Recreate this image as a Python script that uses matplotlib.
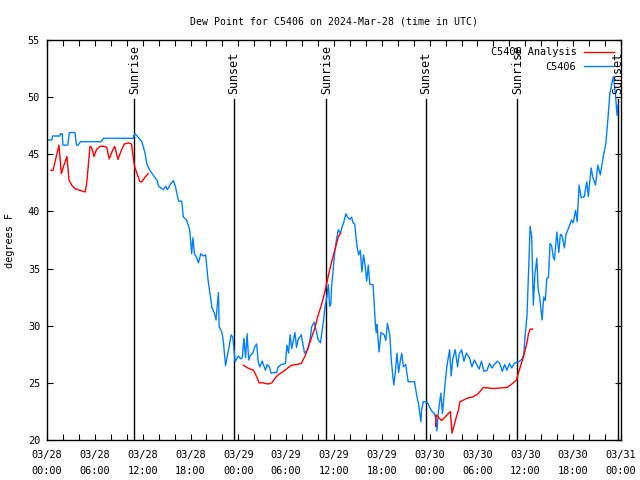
import numpy as np
import matplotlib
matplotlib.use('Agg')
import matplotlib.pyplot as plt
from matplotlib.ticker import MultipleLocator

# hours since 2024-03-28 00:00 UTC
obs_hr = [0.0, 0.6, 0.7, 1.6, 1.7, 1.9, 2.0, 2.6, 2.8, 3.5, 3.7, 3.9, 4.2, 6.8, 7.1, 10.8,
          11.0, 11.3, 11.9, 12.3, 12.5, 12.9, 13.3, 13.6, 13.8, 14.0, 14.6, 14.9, 15.1, 15.5,
          15.85, 16.1, 16.5, 16.9, 17.1, 17.5, 17.9, 18.15, 18.3, 18.5, 18.8, 19.0, 19.3, 19.6,
          19.9, 20.2, 20.5, 20.7, 21.0, 21.2, 21.5, 21.6, 21.9, 22.1, 22.3, 22.4, 22.6, 22.8,
          23.1, 23.3, 23.6, 24.0, 24.3, 24.5, 24.7, 24.9, 25.1, 25.3, 25.5, 25.8, 26.1, 26.3,
          26.5, 26.7, 27.0, 27.4, 27.6, 27.9, 28.1, 28.4, 28.8, 29.0, 29.4, 29.9, 30.1, 30.3,
          30.5, 30.7, 31.1, 31.3, 31.5, 31.9, 32.1, 32.3, 32.7, 33.0, 33.2, 33.5, 33.8, 34.0,
          34.3, 34.5, 34.7, 34.9, 35.1, 35.3, 35.45, 35.6, 35.7, 35.9, 36.1, 36.3, 36.55, 36.8,
          37.0, 37.2, 37.5, 37.7, 38.0, 38.2, 38.4, 38.6, 38.8, 38.9, 39.1, 39.3, 39.5, 39.7,
          39.9, 40.1, 40.3, 40.5, 40.9, 41.2, 41.3, 41.4, 41.65, 41.9, 42.3, 42.5, 42.7, 43.0,
          43.2, 43.5, 43.7, 43.9, 44.1, 44.3, 44.5, 44.7, 45.0, 45.3, 46.1, 46.4, 46.6, 46.9,
          47.0, 47.2, 47.65, 48.05, 48.3, 48.6, 48.8, 48.9, 49.1, 49.4, 49.6, 49.9, 50.15, 50.5,
          50.7, 50.9, 51.2, 51.5, 51.7, 52.0, 52.3, 52.6, 53.0, 53.3, 53.6, 53.9, 54.2, 54.5,
          54.8, 55.2, 55.5, 55.8, 56.1, 56.5, 56.8, 57.1, 57.4, 57.7, 58.0, 58.3, 58.6, 58.9,
          59.3, 59.6, 59.8, 60.0, 60.2, 60.4, 60.6, 60.8, 61.0, 61.2, 61.45, 61.6, 61.8, 62.1,
          62.3, 62.5, 62.7, 62.9, 63.1, 63.3, 63.5, 63.65, 63.95, 64.2, 64.4, 64.6, 64.9, 65.1,
          65.4, 65.8, 66.0, 66.3, 66.5, 66.75, 67.0, 67.4, 67.7, 67.9, 68.25, 68.5, 68.8, 69.1,
          69.4, 69.8, 70.1, 70.35, 70.6, 70.9, 71.05, 71.3, 71.5, 71.6]
obs_dp = [46.25, 46.25, 46.6, 46.6, 46.8, 46.8, 45.8, 45.8, 46.9, 46.9, 45.8, 45.8, 46.1, 46.1, 46.4, 46.4,
          46.8, 46.6, 46.1, 45.1, 44.2, 43.6, 43.2, 42.9, 42.75, 42.2, 41.9, 42.2, 41.9, 42.4,
          42.7, 42.2, 40.9, 40.9, 39.5, 39.25, 38.4, 36.3, 37.7, 36.3, 35.9, 35.5, 36.3, 36.1,
          36.2, 34.0, 32.5, 31.55, 31.1, 30.5, 32.9, 29.9, 29.5, 28.75, 27.2, 26.5, 27.3, 28.0,
          29.2, 29.0, 26.85, 27.35, 27.1, 27.2, 28.9, 27.2, 29.3, 27.0, 27.4, 27.6, 28.2, 28.4,
          26.8, 26.4, 26.9, 26.1, 26.6, 26.4, 25.85, 25.9, 25.9, 26.4, 26.6, 26.7, 28.3, 27.6,
          29.2, 28.0, 29.4, 28.1, 28.8, 29.2, 28.4, 27.6, 27.9, 28.8, 29.9, 30.3, 29.5, 28.8,
          28.5, 29.5, 30.5, 31.8, 32.5, 33.6, 31.7, 31.9, 33.4, 35.0, 36.5, 37.5, 38.4, 38.1,
          38.6, 39.0, 39.8, 39.5, 39.3, 39.5, 39.0, 38.9, 37.5, 36.9, 36.2, 36.6, 34.7, 36.2,
          35.3, 33.9, 35.3, 33.6, 33.6, 30.0, 29.4, 30.1, 27.7, 29.4, 29.2, 28.7, 30.2, 29.2,
          26.85, 24.8, 26.0, 27.6, 25.9, 26.85, 27.6, 26.4, 26.6, 25.1, 25.1, 23.8, 23.2, 21.6,
          22.7, 23.35, 23.35, 22.8, 22.5, 22.3, 21.75, 20.8, 22.5, 24.1, 22.3, 24.7, 26.4, 27.9,
          25.6, 27.1, 27.9, 26.4, 27.5, 27.9, 26.9, 27.6, 27.2, 26.4, 27.0, 26.6, 26.2, 26.9,
          26.0, 26.1, 26.7, 26.3, 26.6, 26.9, 26.7, 26.0, 26.6, 26.1, 26.7, 26.3, 26.7, 26.8,
          26.9, 27.1, 27.5, 29.3, 30.8, 34.6, 38.7, 37.8, 31.8, 34.5, 35.9, 33.2, 32.5, 30.5,
          32.5, 32.2, 34.15, 34.2, 37.2, 37.0, 36.0, 35.75, 38.2, 36.4, 38.0, 37.9, 36.8, 38.0,
          38.5, 39.25, 39.0, 40.1, 39.1, 42.3, 41.2, 41.3, 42.6, 41.3, 43.8, 42.9, 42.3, 44.05,
          43.2, 44.9, 45.95, 48.0, 50.3, 51.35, 51.8, 50.3, 48.4, 49.3]

# analysis series, NaN marks the gaps
ana_hr = [0.5, 0.75, 1.2, 1.5, 1.8, 2.1, 2.5, 2.76, 3.1, 3.5, 3.9, 4.35, 4.8, 5.0, 5.2, 5.4,
          5.6, 5.9, 6.2, 6.65, 7.1, 7.5, 7.8, 8.2, 8.5, 8.9, 9.3, 9.7, 10.2, 10.6, 10.8, 11.0,
          11.5, 11.65, 11.9, 12.3, 12.7, 18.0,
          24.6, 25.2, 25.9, 26.4, 26.6, 27.1, 27.7, 28.2, 28.6, 29.0, 29.65, 30.2, 30.7, 31.3,
          31.9, 32.4, 32.8, 33.2, 33.6, 34.0, 34.5, 34.9, 35.3, 35.7, 36.1, 36.55, 36.85, 42.0,
          48.75, 48.8, 49.5, 50.6, 50.8, 51.3, 51.6, 51.8, 52.7, 53.5, 54.0, 54.5, 54.75, 55.3,
          56.0, 56.8, 57.7, 58.3, 58.9, 59.1, 59.5, 59.8, 60.2, 60.4, 60.6, 60.9]
ana_dp = [43.6, 43.6, 44.9, 45.8, 43.3, 44.0, 44.8, 42.75, 42.3, 42.0, 41.9, 41.8, 41.7, 42.6, 44.2, 45.7,
          45.6, 44.8, 45.4, 45.7, 45.7, 45.6, 44.6, 45.3, 45.7, 44.55, 45.3, 45.9, 46.0, 45.9, 44.8, 43.9,
          42.9, 42.6, 42.6, 43.0, 43.3, np.nan,
          26.55, 26.3, 26.1, 25.4, 25.0, 25.0, 24.9, 25.0, 25.4, 25.7, 26.0, 26.3, 26.55, 26.6,
          26.7, 27.4, 28.2, 29.0, 29.8, 30.9, 32.0, 33.1, 34.4, 35.6, 36.6, 37.8, 38.1, np.nan,
          21.2, 22.2, 21.7, 22.5, 20.6, 21.9, 22.6, 23.35, 23.65, 23.8, 24.0, 24.4, 24.6, 24.55,
          24.5, 24.55, 24.6, 24.9, 25.25, 25.8, 26.7, 27.35, 28.5, 29.3, 29.7, 29.7]

sun_hr = [10.95, 23.4, 35.05, 47.5, 59.0, 71.6]
sun_lbl = ['Sunrise', 'Sunset', 'Sunrise', 'Sunset', 'Sunrise', 'Sunset']

xtick_hr = [0, 6, 12, 18, 24, 30, 36, 42, 48, 54, 60, 66, 72]
xtick_lbl = ['03/28\n00:00', '03/28\n06:00', '03/28\n12:00', '03/28\n18:00',
             '03/29\n00:00', '03/29\n06:00', '03/29\n12:00', '03/29\n18:00',
             '03/30\n00:00', '03/30\n06:00', '03/30\n12:00', '03/30\n18:00',
             '03/31\n00:00']

plt.rcParams['font.family'] = ['DejaVu Sans Mono']
plt.rcParams['font.size'] = 7.4

fig = plt.figure(figsize=(6.4, 4.8), dpi=100)
ax = fig.add_axes([47/640, 40/480, 574/640, 400/480])

for t, lbl in zip(sun_hr, sun_lbl):
    ax.plot([t, t], [20, 49.8], color='black', lw=1.0, zorder=1)
    ax.text(t, 50.3, lbl, rotation=90, ha='center', va='bottom', fontsize=8.4)

ax.plot(ana_hr, ana_dp, color='#ff0000', lw=1.0, label='C5406 Analysis', zorder=3)
ax.plot(obs_hr, obs_dp, color='#0080ff', lw=1.0, label='C5406', zorder=2)

ax.set_xlim(0, 72)
ax.set_ylim(20, 55)
ax.set_xticks(xtick_hr)
ax.set_xticklabels(xtick_lbl, linespacing=1.75)
ax.xaxis.set_minor_locator(MultipleLocator(2))
ax.yaxis.set_major_locator(MultipleLocator(5))
ax.tick_params(which='both', direction='in', top=True, right=True, length=4, width=0.8)
ax.tick_params(axis='x', pad=7)
ax.tick_params(axis='y', pad=5)
for s in ax.spines.values():
    s.set_linewidth(1.0)

ax.set_ylabel('degrees F')
ax.yaxis.set_label_coords(-0.056, 0.5)
ax.set_title('Dew Point for C5406 on 2024-Mar-28 (time in UTC)', pad=11, fontsize=7.1)

ax.legend(loc='upper right', frameon=False, markerfirst=False, handlelength=2.9,
          handletextpad=0.75, labelspacing=0.45, borderaxespad=0.5, borderpad=0.2)

fig.savefig('out.png', dpi=100)
